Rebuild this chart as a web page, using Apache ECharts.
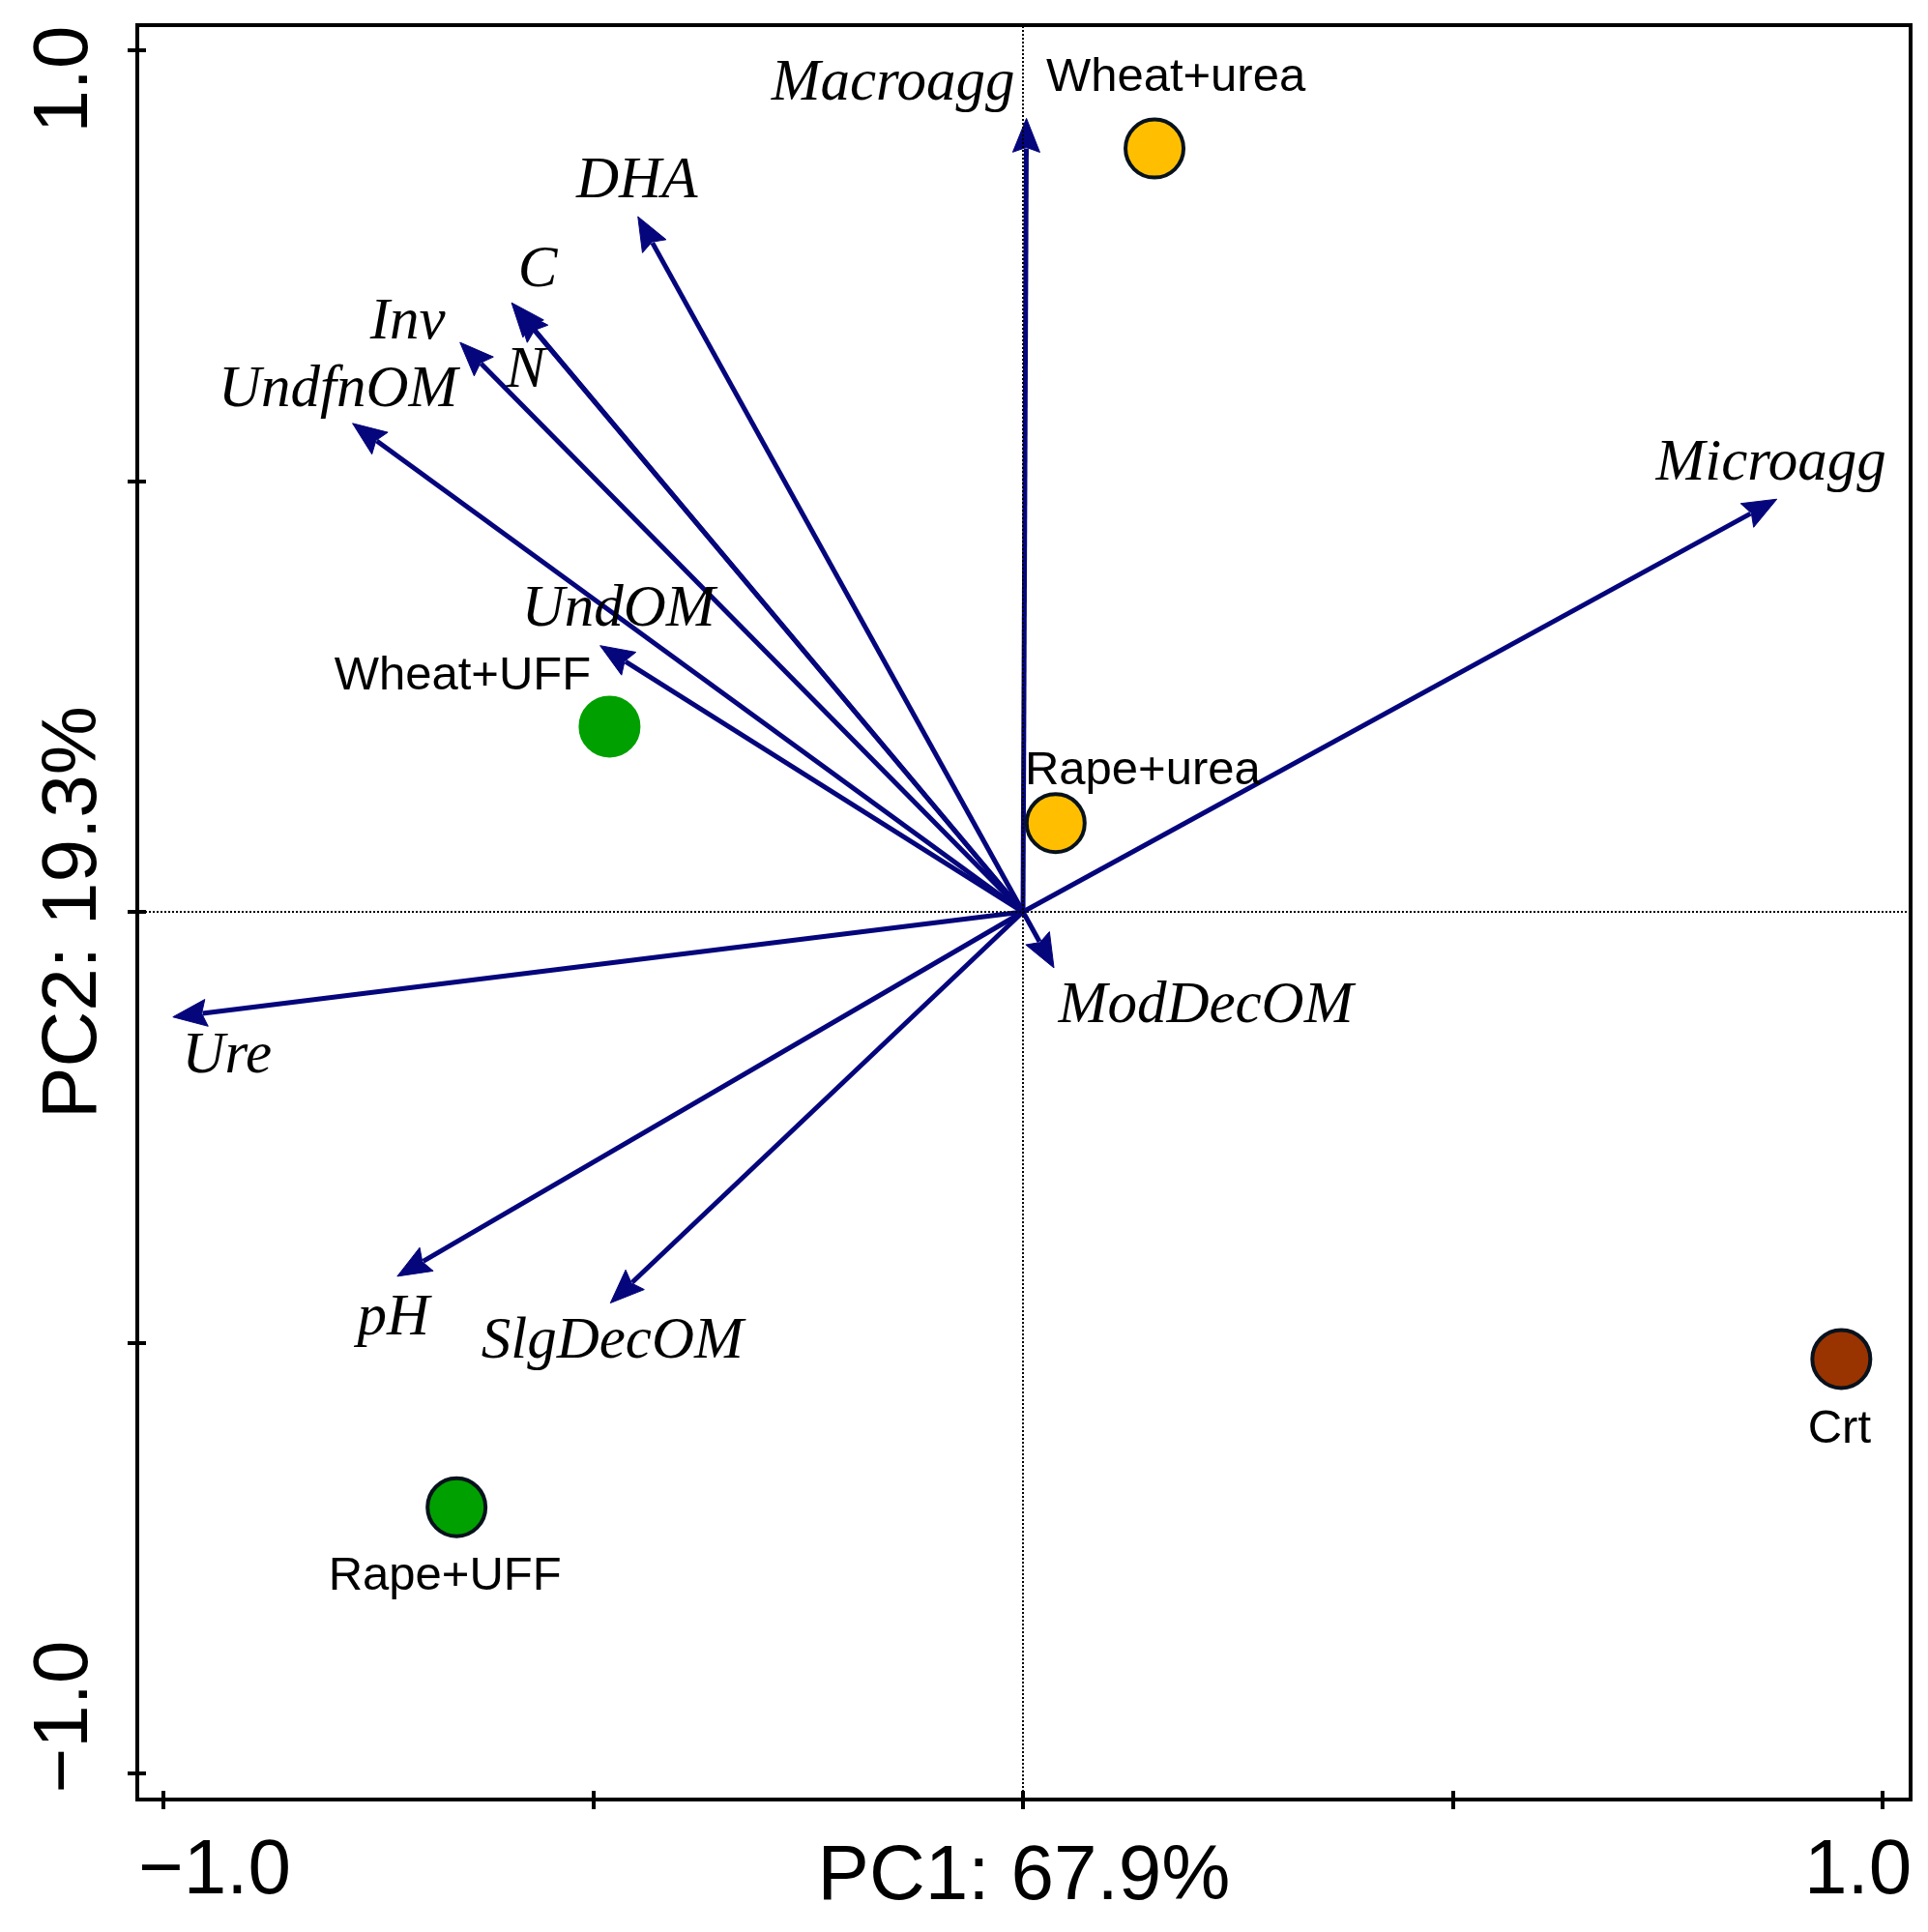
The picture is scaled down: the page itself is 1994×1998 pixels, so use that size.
<!DOCTYPE html>
<html>
<head>
<meta charset="utf-8">
<script src="https://cdn.jsdelivr.net/npm/echarts@6/dist/echarts.min.js"></script>
<style>
html,body{margin:0;padding:0;background:#ffffff;}
#chart{width:1994px;height:1998px;}
</style>
</head>
<body>
<div id="chart"></div>
<script>
// ---------------- data ----------------
const variableNames = ['Macroagg', 'DHA', 'C', 'N', 'Inv', 'UndfnOM', 'UndOM', 'Microagg', 'ModDecOM', 'Ure', 'pH', 'SlgDecOM'];
const variablePC1 = [0.004, -0.448, -0.595, -0.590, -0.655, -0.780, -0.492, 0.877, 0.036, -0.989, -0.728, -0.480];
const variablePC2 = [0.921, 0.807, 0.707, 0.701, 0.661, 0.567, 0.309, 0.479, -0.065, -0.122, -0.423, -0.454];

const treatmentNames = ['Wheat+urea', 'Rape+urea', 'Wheat+UFF', 'Rape+UFF', 'Crt'];
const treatmentPC1 = [0.153, 0.038, -0.481, -0.659, 0.952];
const treatmentPC2 = [0.886, 0.103, 0.215, -0.691, -0.519];

const tickValues = [-1, -0.5, 0, 0.5, 1];
const tickLabelValues = [-1, 1];
const xTitle = 'PC1: 67.9%';
const yTitle = 'PC2: 19.3%';

// ---------------- styling / layout ----------------
const treatmentFill = ['#FFBF00', '#FFBF00', '#00A000', '#00A000', '#993300'];
const treatmentBorder = ['#08121c', '#08121c', '#00A000', '#08121c', '#08121c'];
const variableLabelOffsets = [[-138, -35], [-1, -36], [27, -33], [10, 66], [-54, -20], [-15, -34], [19, -37], [-6, -36], [157, 40], [56, 41], [-4, 44], [2, 40]];
const treatmentLabelOffsets = [[22, -73], [90, -54], [-152, -52], [-12, 72], [-2, 73]];
const arrowColor = '#05057C';
const SANS = '"Liberation Sans", Arial, sans-serif';
const SERIF = '"Liberation Serif", "Times New Roman", serif';

const X_MIN = -1.0304, X_MAX = 1.0326;
const Y_MIN = -1.0303, Y_MAX = 1.0292;
const TICK_IN = 9, TICK_OUT = 10;

const chart = echarts.init(document.getElementById('chart'), null, {renderer: 'canvas'});

function makeAxis(min, max, isY) {
  return {
    type: 'value', min: min, max: max, gridIndex: 0,
    position: isY ? 'left' : 'bottom',
    offset: -TICK_IN,
    splitLine: {show: false},
    axisLine: {show: false, onZero: false},
    axisTick: {show: true, inside: false, length: TICK_IN + TICK_OUT, customValues: tickValues,
      lineStyle: {color: '#000', width: 4}},
    axisLabel: {
      show: true,
      customValues: tickLabelValues,
      margin: (isY ? 34 : 35) + TICK_IN,
      rotate: isY ? 90 : 0,
      formatter: function (v) { return v < 0 ? '{a|\u22121.0}' : '{b|1.0}'; },
      rich: isY ? {
        a: {fontFamily: SANS, fontSize: 80, color: '#000', padding: [0, 0, 0, 117]},
        b: {fontFamily: SANS, fontSize: 80, color: '#000', padding: [0, 60, 0, 0]}
      } : {
        a: {fontFamily: SANS, fontSize: 80, color: '#000', padding: [0, 0, 0, 106]},
        b: {fontFamily: SANS, fontSize: 80, color: '#000', padding: [0, 51, 0, 0]}
      }
    },
    name: isY ? yTitle : xTitle,
    nameLocation: 'middle',
    nameMoveOverlap: false,
    nameGap: (isY ? 25 : 41) + TICK_IN,
    nameTextStyle: {fontFamily: SANS, fontSize: 80, color: '#000'}
  };
}

const arrowData = variableNames.map(function (n, i) { return [variablePC1[i], variablePC2[i], i]; });
const pointData = treatmentNames.map(function (n, i) {
  return {
    name: n,
    value: [treatmentPC1[i], treatmentPC2[i]],
    itemStyle: {color: treatmentFill[i], borderColor: treatmentBorder[i], borderWidth: 4, opacity: 1},
    label: {offset: treatmentLabelOffsets[i]}
  };
});

const option = {
  backgroundColor: '#ffffff',
  animation: false,
  grid: {left: 142, right: 18, top: 26, bottom: 137, show: true, borderColor: '#000', borderWidth: 4,
    backgroundColor: 'transparent', containLabel: false, outerBoundsMode: 'none'},
  xAxis: [makeAxis(X_MIN, X_MAX, false)],
  yAxis: [makeAxis(Y_MIN, Y_MAX, true)],
  series: [
    {
      type: 'scatter', xAxisIndex: 0, yAxisIndex: 0, data: [], z: 1,
      markLine: {
        silent: true, symbol: 'none', animation: false,
        label: {show: false},
        lineStyle: {color: '#000', width: 2, type: [2, 2], opacity: 1},
        data: [{xAxis: 0}, {yAxis: 0}]
      }
    },
    {
      type: 'custom', xAxisIndex: 0, yAxisIndex: 0, z: 2,
      data: arrowData,
      renderItem: function (params, api) {
        const i = api.value(2);
        const p0 = api.coord([0, 0]);
        const p1 = api.coord([api.value(0), api.value(1)]);
        const dx = p1[0] - p0[0], dy = p1[1] - p0[1];
        const len = Math.sqrt(dx * dx + dy * dy);
        const ux = dx / len, uy = dy / len;
        const headLen = 35, headW = 14;
        const bx = p1[0] - ux * headLen, by = p1[1] - uy * headLen;
        const off = variableLabelOffsets[i];
        return {
          type: 'group',
          children: [
            {type: 'line', shape: {x1: p0[0], y1: p0[1], x2: bx + ux * 4, y2: by + uy * 4},
              style: {stroke: arrowColor, lineWidth: 5}},
            {type: 'polygon', shape: {points: [[p1[0], p1[1]],
              [bx - uy * headW, by + ux * headW],
              [bx + ux * 5, by + uy * 5],
              [bx + uy * headW, by - ux * headW]]},
              style: {fill: arrowColor, stroke: arrowColor, lineWidth: 1}},
            {type: 'text', x: p1[0] + off[0], y: p1[1] + off[1],
              style: {text: variableNames[i], fill: '#000', font: 'italic 61px ' + SERIF,
                align: 'center', verticalAlign: 'middle'}}
          ]
        };
      }
    },
    {
      type: 'scatter', xAxisIndex: 0, yAxisIndex: 0, z: 3,
      symbol: 'circle', symbolSize: 60,
      itemStyle: {opacity: 1},
      data: pointData,
      label: {show: true, position: 'inside', formatter: '{b}', fontFamily: SANS, fontSize: 49, color: '#000',
        opacity: 1, align: 'center', verticalAlign: 'middle'}
    }
  ]
};
chart.setOption(option);
</script>
</body>
</html>
